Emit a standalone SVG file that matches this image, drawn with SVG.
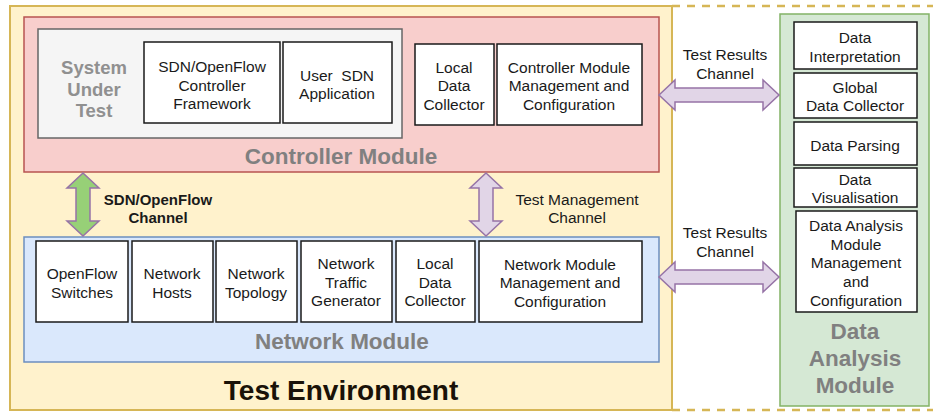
<svg xmlns="http://www.w3.org/2000/svg" width="933" height="412" viewBox="0 0 933 412">
<defs>
<style>
text{font-family:"Liberation Sans",Arial,sans-serif;text-anchor:middle;}
.t{font-size:15.5px;fill:#1a1a1a;}
.box{fill:#ffffff;stroke:#1a1a1a;stroke-width:1.5;}
.title{font-weight:bold;fill:#808080;}
.purple{fill:#e1d5e7;stroke:#9673a6;stroke-width:1.5;}
.green{fill:#97d077;stroke:#9673a6;stroke-width:1.5;}
</style>
</defs>
<rect width="933" height="412" fill="#ffffff"/>
<g id="test-environment">
<rect x="10" y="6" width="662" height="404" fill="#fff2cc" stroke="#d6b656" stroke-width="2"/>
<line x1="672" y1="6" x2="933" y2="6" stroke="#d6b656" stroke-width="2.5" stroke-dasharray="8 7"/>
<line x1="672" y1="410" x2="933" y2="410" stroke="#d6b656" stroke-width="2.5" stroke-dasharray="8 7"/>
<text x="341" y="400" style="font-size:28px;font-weight:bold;fill:#1a1208">Test Environment</text>
</g>
<g id="controller-module">
<rect x="24" y="17" width="635" height="155" fill="#f8cecc" stroke="#b85450" stroke-width="1.5"/>
<text class="title" x="341" y="164" style="font-size:22.5px">Controller Module</text>
</g>
<g id="system-under-test">
<rect x="38" y="29" width="364" height="109" fill="#f5f5f5" stroke="#666666" stroke-width="1.5"/>
<text class="title" x="94" y="74" style="font-size:18.5px;fill:#909090">System</text>
<text class="title" x="94" y="96" style="font-size:18.5px;fill:#909090">Under</text>
<text class="title" x="94" y="117" style="font-size:18.5px;fill:#909090">Test</text>
</g>
<g id="controller-framework">
<rect class="box" x="144" y="42" width="136" height="81"/>
<text class="t" x="212" y="72">SDN/OpenFlow</text>
<text class="t" x="212" y="91">Controller</text>
<text class="t" x="212" y="109">Framework</text>
</g>
<g id="user-sdn-app">
<rect class="box" x="283" y="42" width="109" height="81"/>
<text class="t" x="337" y="81" style="white-space:pre">User  SDN</text>
<text class="t" x="337" y="99">Application</text>
</g>
<g id="ctrl-local-collector">
<rect class="box" x="415" y="44" width="79" height="81"/>
<text class="t" x="454" y="73">Local</text>
<text class="t" x="454" y="91">Data</text>
<text class="t" x="454" y="110">Collector</text>
</g>
<g id="ctrl-management">
<rect class="box" x="497" y="44" width="145" height="81"/>
<text class="t" x="569" y="73">Controller Module</text>
<text class="t" x="569" y="91">Management and</text>
<text class="t" x="569" y="110">Configuration</text>
</g>
<g id="network-module">
<rect x="24" y="237" width="635" height="125" fill="#dae8fc" stroke="#6c8ebf" stroke-width="1.5"/>
<text class="title" x="342" y="349" style="font-size:22.5px">Network Module</text>
</g>
<g id="openflow-switches">
<rect class="box" x="36" y="241" width="92" height="81"/>
<text class="t" x="82" y="279">OpenFlow</text>
<text class="t" x="82" y="298">Switches</text>
</g>
<g id="network-hosts">
<rect class="box" x="132" y="241" width="81" height="81"/>
<text class="t" x="172" y="279">Network</text>
<text class="t" x="172" y="298">Hosts</text>
</g>
<g id="network-topology">
<rect class="box" x="216" y="241" width="81" height="81"/>
<text class="t" x="256" y="279">Network</text>
<text class="t" x="256" y="298">Topology</text>
</g>
<g id="traffic-generator">
<rect class="box" x="301" y="241" width="91" height="81"/>
<text class="t" x="346" y="269">Network</text>
<text class="t" x="346" y="288">Traffic</text>
<text class="t" x="346" y="306">Generator</text>
</g>
<g id="net-local-collector">
<rect class="box" x="396" y="241" width="79" height="81"/>
<text class="t" x="435" y="269">Local</text>
<text class="t" x="435" y="288">Data</text>
<text class="t" x="435" y="306">Collector</text>
</g>
<g id="net-management">
<rect class="box" x="479" y="241" width="163" height="81"/>
<text class="t" x="560" y="270">Network Module</text>
<text class="t" x="560" y="288">Management and</text>
<text class="t" x="560" y="307">Configuration</text>
</g>
<g id="data-analysis-module">
<rect x="780" y="14" width="149" height="392" fill="#d5e8d4" stroke="#82b366" stroke-width="1.5"/>
<text class="title" x="855" y="339" style="font-size:22.5px">Data</text>
<text class="title" x="855" y="366" style="font-size:22.5px">Analysis</text>
<text class="title" x="855" y="393" style="font-size:22.5px">Module</text>
</g>
<g id="data-interpretation">
<rect class="box" x="794" y="22" width="123" height="47"/>
<text class="t" x="855" y="43">Data</text>
<text class="t" x="855" y="62">Interpretation</text>
</g>
<g id="global-collector">
<rect class="box" x="794" y="73" width="123" height="45"/>
<text class="t" x="855" y="93">Global</text>
<text class="t" x="855" y="111">Data Collector</text>
</g>
<g id="data-parsing">
<rect class="box" x="794" y="122" width="123" height="43"/>
<text class="t" x="855" y="151">Data Parsing</text>
</g>
<g id="data-visualisation">
<rect class="box" x="794" y="168" width="123" height="39"/>
<text class="t" x="855" y="185">Data</text>
<text class="t" x="855" y="203">Visualisation</text>
</g>
<g id="dam-management">
<rect class="box" x="796" y="211" width="121" height="101"/>
<text class="t" x="856" y="231">Data Analysis</text>
<text class="t" x="856" y="250">Module</text>
<text class="t" x="856" y="268">Management</text>
<text class="t" x="856" y="287">and</text>
<text class="t" x="856" y="306">Configuration</text>
</g>
<g id="connectors">
<polygon class="purple" points="659,95 675,80 675,88 763,88 763,80 779,95 763,110 763,102 675,102 675,110"/>
<text class="t" x="725" y="60">Test Results</text>
<text class="t" x="725" y="79">Channel</text>
<polygon class="purple" points="659,277 675,262 675,270 763,270 763,262 779,277 763,292 763,284 675,284 675,292"/>
<text class="t" x="725" y="238">Test Results</text>
<text class="t" x="725" y="257">Channel</text>
<polygon class="green" points="83,173 99,188 90,188 90,221 99,221 83,236 67,221 76,221 76,188 67,188"/>
<text x="158" y="205" style="font-size:15px;font-weight:bold;fill:#1a1a1a">SDN/OpenFlow</text>
<text x="158" y="223" style="font-size:15px;font-weight:bold;fill:#1a1a1a">Channel</text>
<polygon class="purple" points="486,173 502,188 493,188 493,221 502,221 486,236 470,221 479,221 479,188 470,188"/>
<text class="t" x="577" y="205">Test Management</text>
<text class="t" x="577" y="223">Channel</text>
</g>
</svg>
